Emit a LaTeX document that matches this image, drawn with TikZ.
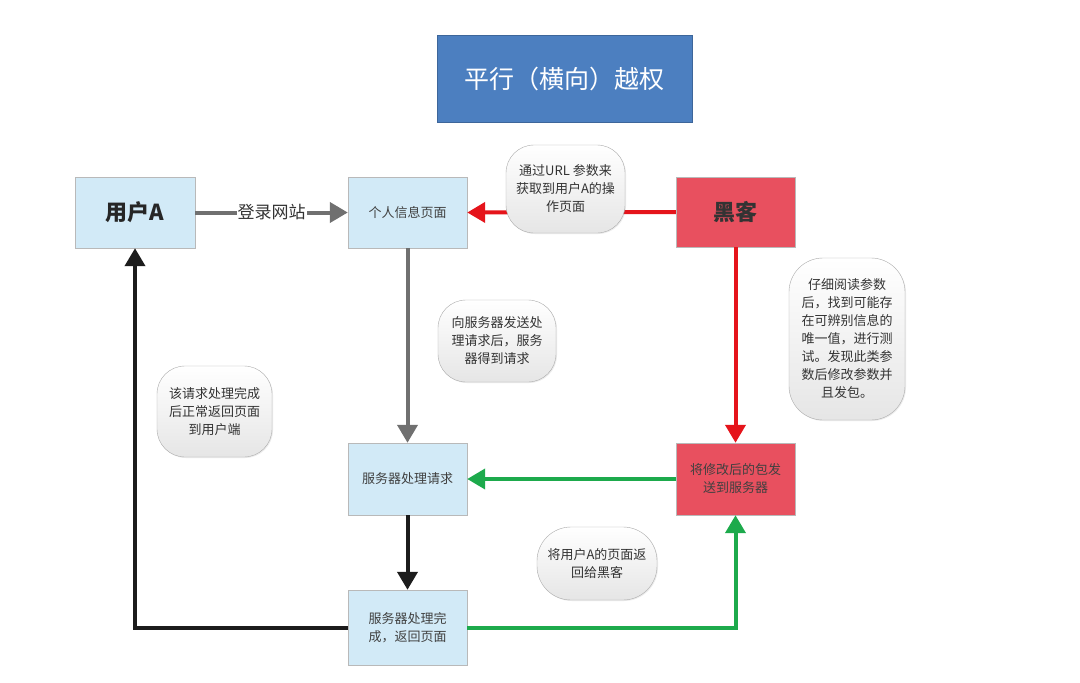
\documentclass[tikz,border=0pt]{standalone}
\usepackage{fontspec}
\setmainfont{Noto Sans CJK SC}
\usetikzlibrary{arrows.meta,shadows}
\definecolor{boxblue}{HTML}{D2EAF7}
\definecolor{titleblue}{HTML}{4C7FC0}
\definecolor{hackred}{HTML}{E8505F}
\definecolor{lngray}{HTML}{707070}
\definecolor{lnred}{HTML}{E5141B}
\definecolor{lngreen}{HTML}{1DAA4C}
\definecolor{lnblack}{HTML}{1C1C1C}
\begin{document}
\begin{tikzpicture}[x=1pt,y=-1pt,
  box/.style={draw=gray!55, fill=boxblue, minimum width=119pt, minimum height=71pt, align=center,
    font=\fontsize{13}{18}\selectfont, text=black!75, inner sep=2pt,
    drop shadow={shadow xshift=1pt,shadow yshift=-1pt,opacity=0.15}},
  redbox/.style={box, fill=hackred},
  note/.style={draw=gray!65, rounded corners=28pt, top color=white, bottom color=gray!20,
    align=center, font=\fontsize{13}{18}\selectfont, text=black!80, inner sep=0pt,
    drop shadow={shadow xshift=1pt,shadow yshift=-1pt,opacity=0.15}},
  ar/.style={line width=4pt, -{Triangle[length=18pt,width=20pt]}},
]
\useasboundingbox[fill=white] (0,0) rectangle (1080,683);

% title
\node[fill=titleblue, draw=titleblue!80!black, minimum width=255pt, minimum height=87pt,
  text=white, font=\fontsize{25}{30}\selectfont] (title) at (564.5,78.5) {平行（横向）越权};

% boxes
\node[box, minimum width=120pt, font=\fontsize{22}{26}\selectfont\bfseries, text=black!85] (userA) at (135,212.5) {用户A};
\node[box] (info) at (407.5,212.5) {个人信息页面};
\node[redbox, minimum height=70pt, font=\fontsize{22}{26}\selectfont\bfseries, text=black!80] (hacker) at (735.5,212) {黑客};
\node[box, minimum height=72pt] (srv) at (407.5,479) {服务器处理请求};
\node[redbox, minimum height=72pt] (pkt) at (735.5,479) {将修改后的包发\\送到服务器};
\node[box, minimum height=75pt] (done) at (407.5,627.5) {服务器处理完\\成，返回页面};

% connectors
\draw[ar, lngray] (userA.east) -- node[fill=white, inner sep=1pt, text=black!80,
  font=\fontsize{17}{20}\selectfont] (login) {登录网站} (info.west);
\draw[ar, lnred] (hacker.west) -- (info.east);
\draw[ar, lngray] (info.south) -- (srv.north);
\draw[ar, lnred] (hacker.south) -- (pkt.north);
\draw[ar, lngreen] (pkt.west) -- (srv.east);
\draw[ar, lnblack] (srv.south) -- (done.north);
\draw[ar, lnblack] (done.west) -| (userA.south);
\draw[ar, lngreen] (done.east) -| (pkt.south);

% notes
\node[note, minimum width=119pt, minimum height=88pt] (n1) at (565.5,189) {通过URL 参数来\\获取到用户A的操\\作页面};
\node[note, minimum width=118pt, minimum height=82pt] (n2) at (497,341) {向服务器发送处\\理请求后，服务\\器得到请求};
\node[note, minimum width=116pt, minimum height=162pt, rounded corners=34pt] (n3) at (847,339) {仔细阅读参数\\后，找到可能存\\在可辨别信息的\\唯一值，进行测\\试。发现此类参\\数后修改参数并\\且发包。};
\node[note, minimum width=115pt, minimum height=91pt] (n4) at (214.5,411.5) {该请求处理完成\\后正常返回页面\\到用户端};
\node[note, minimum width=120pt, minimum height=73pt, rounded corners=34pt] (n5) at (597,563.5) {将用户A的页面返\\回给黑客};
\end{tikzpicture}
\end{document}
